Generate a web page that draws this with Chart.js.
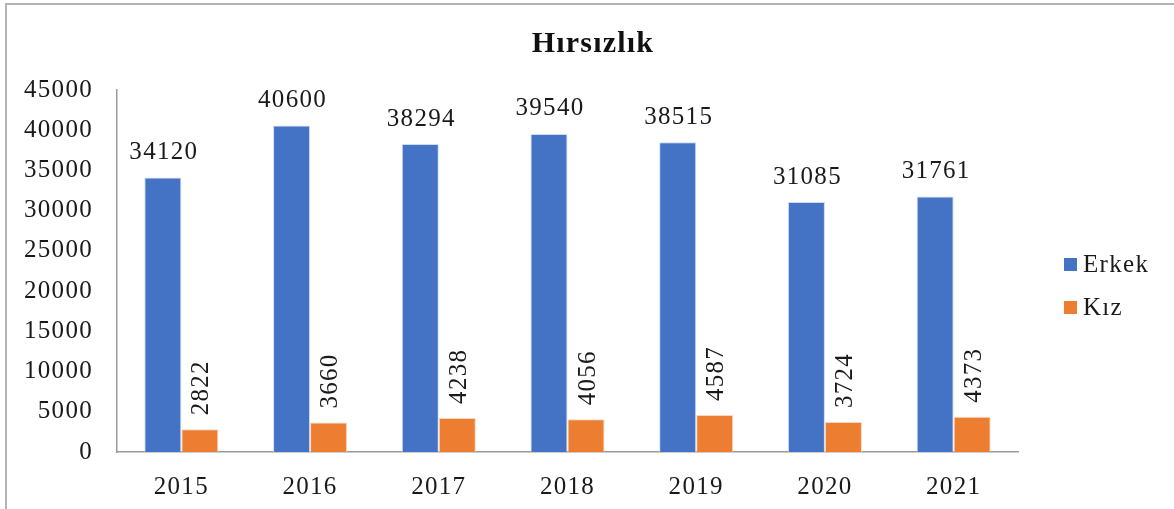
<!DOCTYPE html>
<html>
<head>
<meta charset="utf-8">
<script src="https://cdn.jsdelivr.net/npm/chart.js@4"></script>
<style>
  body { margin: 0; background: #fff; }
  #wrap { position: relative; width: 1174px; height: 509px; overflow: hidden; }
  #frame { position: absolute; left: 5px; top: 3px; width: 1300px; height: 700px; border: 2px solid #b4b4b4; }
  #grafico { position: absolute; left: 0; top: 0; }
</style>
</head>
<body>
<div id="wrap">
  <div id="frame"></div>
  <canvas id="grafico" width="1174" height="509"></canvas>
</div>
<script>
// Hirsizlik - erkek / kiz
const yillar = ['2015', '2016', '2017', '2018', '2019', '2020', '2021'];
const erkek = [34120, 40600, 38294, 39540, 38515, 31085, 31761];
const kiz = [2822, 3660, 4238, 4056, 4587, 3724, 4373];
const yTicks = [0, 5000, 10000, 15000, 20000, 25000, 30000, 35000, 40000, 45000];
const titulo = 'Hırsızlık';

const fuente = '"Liberation Serif", "Times New Roman", serif';

// letras un poco mas anchas, como en la imagen original
const espaciado = {
  id: 'espaciado',
  beforeDraw(chart) {
    chart.ctx.letterSpacing = '1.3px';
  }
};

// titulo centrado en todo el ancho
const tituloPlugin = {
  id: 'tituloPlugin',
  afterDraw(chart) {
    const ctx = chart.ctx;
    ctx.save();
    ctx.letterSpacing = '1.2px';
    ctx.font = 'bold 30px ' + fuente;
    ctx.fillStyle = '#111';
    ctx.textAlign = 'center';
    ctx.textBaseline = 'middle';
    ctx.fillText(titulo, 593, 44);
    ctx.restore();
  }
};

// etiquetas de valor arriba de las barras
const etiquetas = {
  id: 'etiquetas',
  afterDatasetsDraw(chart) {
    const ctx = chart.ctx;
    ctx.save();
    ctx.letterSpacing = '1.3px';
    ctx.fillStyle = '#1a1a1a';
    ctx.font = '25px ' + fuente;
    chart.data.datasets.forEach((ds, i) => {
      const meta = chart.getDatasetMeta(i);
      meta.data.forEach((bar, j) => {
        const txt = String(ds.data[j]);
        if (i === 0) {
          ctx.textAlign = 'center';
          ctx.textBaseline = 'middle';
          ctx.fillText(txt, bar.x + 1, bar.y - 25);
        } else {
          ctx.save();
          ctx.translate(bar.x + 2, bar.y - 14);
          ctx.rotate(-Math.PI / 2);
          ctx.textAlign = 'left';
          ctx.textBaseline = 'middle';
          ctx.fillText(txt, 0, 0);
          ctx.restore();
        }
      });
    });
    ctx.restore();
  }
};

// leyenda a la derecha
const leyenda = {
  id: 'leyenda',
  afterDraw(chart) {
    const ctx = chart.ctx;
    ctx.save();
    ctx.letterSpacing = '1.3px';
    ctx.font = '25px ' + fuente;
    ctx.textAlign = 'left';
    ctx.textBaseline = 'middle';
    const filas = [265, 308];
    chart.data.datasets.forEach((ds, i) => {
      ctx.fillStyle = ds.backgroundColor;
      ctx.fillRect(1064, filas[i] - 7, 13, 13);
      ctx.fillStyle = '#1a1a1a';
      ctx.fillText(ds.label, 1083, filas[i]);
    });
    ctx.restore();
  }
};

const ctx = document.getElementById('grafico').getContext('2d');
const hirsizlik = new Chart(ctx, {
  type: 'bar',
  data: {
    labels: yillar,
    datasets: [
      {
        label: 'Erkek',
        data: erkek,
        backgroundColor: '#4472C4',
        borderColor: 'rgba(200, 215, 240, 0.9)',
        borderWidth: 1,
        barPercentage: 1.0,
        categoryPercentage: 0.575
      },
      {
        label: 'Kız',
        data: kiz,
        backgroundColor: '#ED7D31',
        borderColor: 'rgba(250, 210, 180, 0.9)',
        borderWidth: 1,
        barPercentage: 1.0,
        categoryPercentage: 0.575
      }
    ]
  },
  options: {
    responsive: false,
    animation: false,
    layout: {
      padding: { left: 0, right: 156, top: 90, bottom: 0 }
    },
    scales: {
      x: {
        grid: { display: false, drawTicks: false },
        border: { display: true, color: '#9a9a9a', width: 1.5 },
        ticks: {
          color: '#1a1a1a',
          padding: 20,
          font: { family: fuente, size: 25 }
        },
        afterFit: (scale) => { scale.height = 57; }
      },
      y: {
        min: 0,
        max: 45000,
        grid: { display: false, drawTicks: false },
        border: { display: true, color: '#9a9a9a', width: 1.5 },
        afterBuildTicks: (scale) => { scale.ticks = yTicks.map(v => ({ value: v })); },
        ticks: {
          color: '#1a1a1a',
          padding: 24,
          font: { family: fuente, size: 25 },
          callback: (v) => String(v)
        },
        afterFit: (scale) => { scale.width = 117; }
      }
    },
    plugins: {
      legend: { display: false },
      tooltip: { enabled: false },
      title: { display: false }
    }
  },
  plugins: [espaciado, tituloPlugin, etiquetas, leyenda]
});
</script>
</body>
</html>
